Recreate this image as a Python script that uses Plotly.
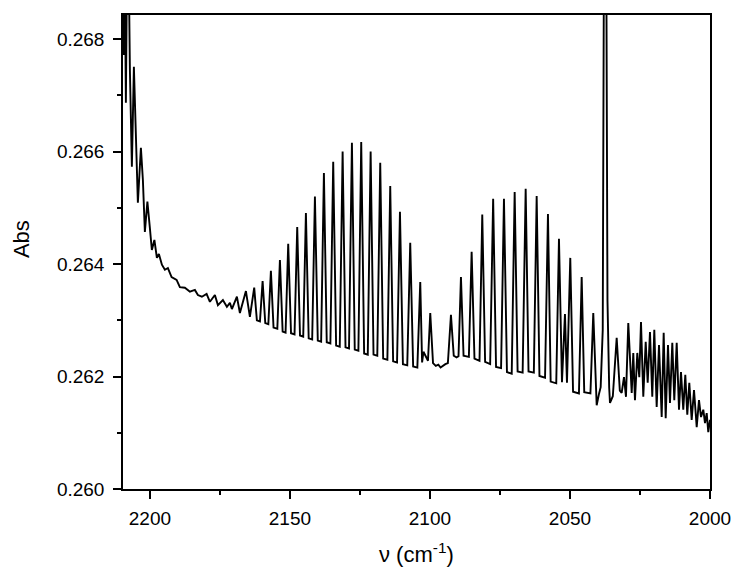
import plotly.graph_objects as go

# ---- data (wavenumber in cm^-1, absorbance) ----
edge_nu = [2209.64, 2209.29, 2208.93, 2208.57, 2208.21, 2207.50, 2207.14, 2206.43, 2205.71, 2205.00,
           2204.29, 2203.21, 2202.50, 2201.79, 2200.89, 2200.00, 2199.29, 2198.39, 2197.50, 2196.79,
           2195.71, 2194.64, 2193.57, 2192.25, 2190.46, 2189.29, 2187.50, 2185.71, 2183.93, 2182.86,
           2181.43, 2179.75, 2178.57, 2176.79, 2175.71, 2173.93, 2172.50, 2171.43, 2170.71]
edge_abs = [0.26906, 0.26772, 0.26906, 0.26687, 0.26906, 0.26906, 0.26746, 0.26573, 0.26751, 0.26621,
            0.26509, 0.26607, 0.26550, 0.26457, 0.26511, 0.26464, 0.26425, 0.26443, 0.26411, 0.26418,
            0.26399, 0.26390, 0.26393, 0.26377, 0.26372, 0.26359, 0.26358, 0.26351, 0.26354, 0.26345,
            0.26342, 0.26347, 0.26333, 0.26345, 0.26327, 0.26336, 0.26324, 0.26331, 0.26320]

r_branch_nu = [2168.93, 2167.86, 2165.71, 2164.29, 2162.75, 2161.80, 2160.70, 2159.75, 2158.80, 2157.70,
               2156.79, 2155.85, 2154.50, 2153.57, 2152.60, 2151.55, 2150.61, 2149.60, 2148.35, 2147.39,
               2146.40, 2145.25, 2144.29, 2143.30, 2142.05, 2141.07, 2140.05, 2138.85, 2137.86, 2136.85,
               2135.55, 2134.54, 2133.50, 2132.20, 2131.18, 2130.15, 2128.90, 2127.86, 2126.85, 2125.55,
               2124.54, 2123.50, 2122.20, 2121.18, 2120.15, 2118.80, 2117.75, 2116.70, 2115.20, 2114.18,
               2113.15, 2111.75, 2110.71, 2109.65, 2108.10, 2107.04, 2106.00, 2104.50, 2103.46, 2102.80,
               2102.32, 2101.50, 2100.70, 2099.89, 2098.90, 2097.90, 2097.00, 2096.20, 2095.40, 2094.50,
               2093.60]
r_branch_abs = [0.26342, 0.26313, 0.26352, 0.26306, 0.26358, 0.26300, 0.26298, 0.26370, 0.26295, 0.26293,
                0.26388, 0.26287, 0.26285, 0.26407, 0.26280, 0.26278, 0.26436, 0.26277, 0.26275, 0.26466,
                0.26273, 0.26271, 0.26491, 0.26268, 0.26266, 0.26520, 0.26264, 0.26262, 0.26562, 0.26261,
                0.26259, 0.26582, 0.26255, 0.26253, 0.26600, 0.26252, 0.26250, 0.26616, 0.26248, 0.26246,
                0.26617, 0.26241, 0.26239, 0.26600, 0.26239, 0.26237, 0.26580, 0.26232, 0.26230, 0.26539,
                0.26227, 0.26225, 0.26493, 0.26222, 0.26220, 0.26438, 0.26218, 0.26216, 0.26368, 0.26225,
                0.26244, 0.26235, 0.26228, 0.26313, 0.26224, 0.26219, 0.26221, 0.26216, 0.26219, 0.26222,
                0.26224]

p_branch_nu = [2092.50, 2091.50, 2090.50, 2089.80, 2088.93, 2088.00, 2086.10, 2085.11, 2084.10, 2082.30,
               2081.32, 2080.30, 2078.50, 2077.43, 2076.40, 2074.60, 2073.57, 2072.50, 2070.80, 2069.75,
               2068.70, 2066.90, 2065.82, 2064.80, 2062.90, 2061.89, 2060.90, 2058.90, 2057.86, 2056.90,
               2054.90, 2053.93, 2052.86, 2051.79, 2051.07, 2049.89, 2048.90, 2046.80, 2045.82, 2044.90,
               2042.70, 2041.68, 2040.46, 2039.60, 2039.04]
p_branch_abs = [0.26310, 0.26237, 0.26234, 0.26236, 0.26377, 0.26237, 0.26235, 0.26422, 0.26232, 0.26228,
                0.26488, 0.26226, 0.26222, 0.26516, 0.26217, 0.26215, 0.26516, 0.26208, 0.26205, 0.26528,
                0.26209, 0.26207, 0.26534, 0.26209, 0.26207, 0.26521, 0.26201, 0.26198, 0.26489, 0.26191,
                0.26188, 0.26445, 0.26190, 0.26311, 0.26189, 0.26411, 0.26173, 0.26170, 0.26377, 0.26172,
                0.26170, 0.26313, 0.26149, 0.26170, 0.26181]

spike_nu = [2038.30, 2037.90, 2037.00, 2036.61, 2036.00]
spike_abs = [0.26283, 0.26906, 0.26906, 0.26336, 0.26180]

tail_nu = [2035.71, 2034.70, 2033.32, 2032.20, 2031.54, 2030.71, 2030.00, 2029.18, 2027.96, 2027.39,
           2026.79, 2025.96, 2025.25, 2024.64, 2023.82, 2022.96, 2022.25, 2021.43, 2020.61, 2019.89,
           2019.04, 2018.21, 2017.25, 2016.54, 2015.82, 2015.00, 2014.29, 2013.46, 2012.75, 2011.89,
           2011.07, 2010.36, 2009.54, 2008.82, 2008.11, 2007.39, 2006.54, 2005.71, 2004.75, 2003.93,
           2003.21, 2002.39, 2001.79, 2001.18, 2000.61, 2000.00]
tail_abs = [0.26153, 0.26165, 0.26269, 0.26175, 0.26171, 0.26199, 0.26164, 0.26295, 0.26171, 0.26242,
            0.26158, 0.26242, 0.26199, 0.26297, 0.26164, 0.26262, 0.26189, 0.26279, 0.26164, 0.26283,
            0.26146, 0.26256, 0.26128, 0.26278, 0.26126, 0.26256, 0.26153, 0.26260, 0.26158, 0.26260,
            0.26141, 0.26208, 0.26141, 0.26203, 0.26132, 0.26189, 0.26123, 0.26176, 0.26110, 0.26158,
            0.26128, 0.26141, 0.26117, 0.26135, 0.26101, 0.26123]

x_ticks = [2200, 2150, 2100, 2050, 2000]
y_ticks = [0.260, 0.262, 0.264, 0.266, 0.268]
y_tick_labels = ["0.260", "0.262", "0.264", "0.266", "0.268"]

nu = edge_nu + r_branch_nu + p_branch_nu + spike_nu + tail_nu
absorbance = edge_abs + r_branch_abs + p_branch_abs + spike_abs + tail_abs

FONT = "Liberation Sans, Arial, sans-serif"

fig = go.Figure()
fig.add_trace(go.Scatter(x=nu, y=absorbance, mode="lines",
                         line=dict(color="black", width=1.9), showlegend=False,
                         hoverinfo="skip"))

axis_common = dict(showgrid=False, zeroline=False, showline=True, linecolor="black",
                   linewidth=1.5, mirror=True, ticks="outside", tickcolor="black",
                   tickwidth=1.5, ticklen=8, automargin=False,
                   tickfont=dict(family=FONT, size=19, color="black"))

fig.update_xaxes(range=[2209.6, 2000], tickvals=x_ticks, ticktext=[str(v) for v in x_ticks],
                 minor=dict(dtick=25, tick0=2000, ticks="outside", ticklen=4,
                            tickcolor="black", tickwidth=1.5),
                 ticklabelstandoff=3, **axis_common)
fig.update_yaxes(range=[0.260, 0.26843], tickvals=y_ticks, ticktext=y_tick_labels,
                 minor=dict(dtick=0.001, tick0=0.260, ticks="outside", ticklen=4,
                            tickcolor="black", tickwidth=1.5),
                 ticklabelstandoff=5, **axis_common)

fig.add_annotation(text="Abs", xref="paper", yref="paper", x=-0.174, y=0.527,
                   xanchor="center", yanchor="middle", textangle=-90, showarrow=False,
                   font=dict(family=FONT, size=22, color="black"))
fig.add_annotation(text="\u03bd (cm<sup>-1</sup>)", xref="paper", yref="paper", x=0.5, y=-0.135,
                   xanchor="center", yanchor="middle", showarrow=False,
                   font=dict(family=FONT, size=22, color="black"))

fig.update_layout(width=733, height=567, margin=dict(l=123, r=23, t=15, b=78, autoexpand=False),
                  plot_bgcolor="white", paper_bgcolor="white")

fig.write_html("out.html", config={"displayModeBar": False, "responsive": False},
               post_script="document.body.style.margin='0';document.body.style.overflow='hidden';")
